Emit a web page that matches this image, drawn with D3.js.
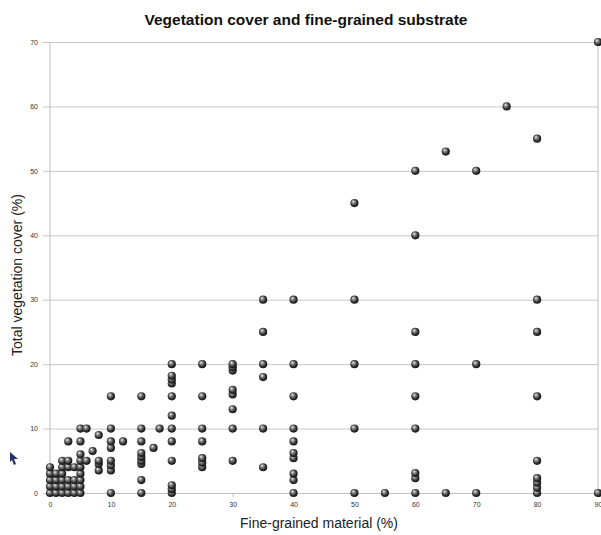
<!DOCTYPE html>
<html>
<head>
<meta charset="utf-8">
<script src="https://cdn.jsdelivr.net/npm/d3@7"></script>
<style>
  body { margin: 0; background: #fff; }
  text { font-family: 'Liberation Sans', Arial, sans-serif; }
</style>
</head>
<body>
<script>
// fine-grained material (%) -> list of vegetation cover values (%)
const fineValues = [0, 1, 2, 3, 4, 5, 6, 7, 8, 10, 12, 15, 17, 18, 20, 25, 30, 35, 40, 50, 55, 60, 65, 70, 75, 80, 90]
const coverValues = [
  [0, 1, 2, 3, 4],
  [0, 1, 2, 3],
  [0, 1, 2, 3, 4, 5],
  [0, 1, 2, 4, 5, 8],
  [0, 1, 2, 4],
  [0, 1, 2, 3, 4, 5, 6, 8, 10],
  [5, 10],
  [6.5],
  [3.5, 4.5, 5, 9],
  [0, 3.5, 4.3, 5, 7, 8, 10, 15],
  [8],
  [0, 2, 4.5, 5, 5.6, 6.2, 8, 10, 15],
  [7],
  [10],
  [0, 0.6, 1.2, 5, 8, 10, 12, 15, 17, 17.6, 18.2, 20],
  [4, 4.7, 5.4, 8, 10, 15, 20],
  [5, 10, 13, 15.3, 16, 19, 19.5, 20],
  [4, 10, 18, 20, 25, 30],
  [0, 2, 3, 5.4, 6.2, 8, 10, 15, 20, 30],
  [0, 10, 20, 30, 45],
  [0],
  [0, 2.3, 3.1, 10, 15, 20, 25, 40, 50],
  [0, 53],
  [0, 20, 50],
  [60],
  [0, 0.8, 1.6, 2.3, 5, 15, 25, 30, 55],
  [0, 70]
]
const xTicks = [0, 10, 20, 30, 40, 50, 60, 70, 80, 90]
const yTicks = [0, 10, 20, 30, 40, 50, 60, 70]

const title = 'Vegetation cover and fine-grained substrate'
const xLabel = 'Fine-grained material (%)'
const yLabel = 'Total vegetation cover (%)'

const points = []
fineValues.forEach((f, i) => {
  coverValues[i].forEach((c) => points.push({ fine: f, cover: c }))
})

const W = 601, H = 535
const margins = { top: 42, right: 3, bottom: 42, left: 50 }

const x = d3.scaleLinear()
  .domain([0, 90])
  .range([margins.left, W - margins.right])

const y = d3.scaleLinear()
  .domain([0, 70])
  .range([H - margins.bottom, margins.top])

const svg = d3.select('body').append('svg')
  .attr('width', W)
  .attr('height', H)

const grad = svg.append('defs').append('radialGradient')
  .attr('id', 'ball')
  .attr('cx', '45%').attr('cy', '45%').attr('r', '60%')
  .attr('fx', '35%').attr('fy', '30%')
grad.append('stop').attr('offset', '0%').attr('stop-color', '#f4f4f4')
grad.append('stop').attr('offset', '30%').attr('stop-color', '#8a8a8a')
grad.append('stop').attr('offset', '70%').attr('stop-color', '#2a2a2a')
grad.append('stop').attr('offset', '100%').attr('stop-color', '#111')

// horizontal grid + left ticks
const yAxis = svg.append('g')
  .attr('transform', 'translate(' + margins.left + ',0)')
  .call(d3.axisLeft(y)
    .tickValues(yTicks)
    .tickSize(-(W - margins.left - margins.right))
    .tickSizeOuter(0)
    .tickPadding(12))
yAxis.select('.domain').remove()
yAxis.selectAll('line')
  .attr('x1', -7)
  .attr('stroke', '#c8c8c8')
yAxis.selectAll('text')
  .attr('font-size', 7)
  .attr('fill', '#333')

// bottom ticks
const xAxis = svg.append('g')
  .attr('transform', 'translate(0,' + y(0) + ')')
  .call(d3.axisBottom(x)
    .tickValues(xTicks)
    .tickSize(4)
    .tickSizeOuter(0)
    .tickPadding(5))
xAxis.select('.domain').attr('stroke', '#c0c0c0')
xAxis.selectAll('line').attr('stroke', '#bbb')
xAxis.selectAll('text')
  .attr('font-size', 7)
  .attr('fill', '#333')

// left and right frame lines
svg.append('line')
  .attr('x1', x(0)).attr('x2', x(0))
  .attr('y1', y(70)).attr('y2', y(0))
  .attr('stroke', '#bdbdbd')
svg.append('line')
  .attr('x1', x(90)).attr('x2', x(90))
  .attr('y1', y(70)).attr('y2', y(0))
  .attr('stroke', '#bdbdbd')

svg.append('g')
  .selectAll('circle')
  .data(points)
  .enter().append('circle')
    .attr('cx', (d) => x(d.fine))
    .attr('cy', (d) => y(d.cover))
    .attr('r', 4.1)
    .attr('fill', 'url(#ball)')

svg.append('text')
  .attr('x', 306)
  .attr('y', 25)
  .attr('text-anchor', 'middle')
  .attr('font-size', 15.5)
  .attr('font-weight', 'bold')
  .attr('fill', '#111')
  .text(title)

svg.append('text')
  .attr('x', 319)
  .attr('y', 528)
  .attr('text-anchor', 'middle')
  .attr('font-size', 14)
  .attr('fill', '#222')
  .text(xLabel)

svg.append('text')
  .attr('transform', 'translate(22,275) rotate(-90)')
  .attr('text-anchor', 'middle')
  .attr('font-size', 14)
  .attr('fill', '#222')
  .text(yLabel)

// mouse pointer left in the screenshot
svg.append('path')
  .attr('d', 'M10,452 L18,459 L14,459 L16,464 L14,465 L12,460 L10,462 Z')
  .attr('fill', '#223366')
</script>
</body>
</html>
